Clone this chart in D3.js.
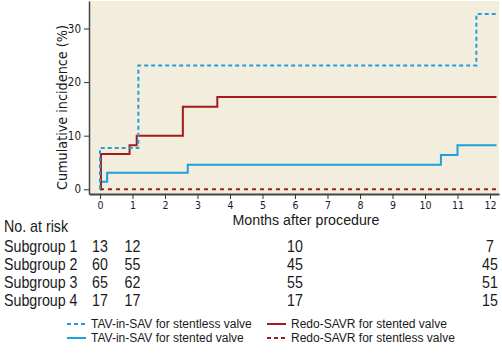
<!DOCTYPE html>
<html><head><meta charset="utf-8">
<script src="https://cdn.jsdelivr.net/npm/d3@7"></script>
<style>
body{margin:0;background:#fff;}
svg{display:block;}
text{font-family:"Liberation Sans",Arial,sans-serif;fill:#1a1a1a;}
.cond{font-family:"Liberation Sans Narrow","DejaVu Sans Condensed",sans-serif;}
</style></head><body>
<svg id="c" width="502" height="356"></svg>
<script>
// ---- data ----
const xTicks = [0,1,2,3,4,5,6,7,8,9,10,11,12];
const yTicks = [0,10,20,30];
// step points: [month, cumulative incidence %]
const tavStentless = [[0,0],[0.0,7.7],[1.18,23.1],[11.58,32.7],[12.2,32.7]];
const redoStented = [[0,0],[0.03,6.6],[0.91,8.2],[1.13,10.0],[2.55,15.4],[3.61,17.2],[12.2,17.2]];
const tavStented = [[0,0],[0.03,1.4],[0.22,3.1],[2.7,4.6],[10.49,6.4],[11.0,8.2],[12.2,8.2]];
const redoStentless = [[0,0],[12.2,0]];
const riskMonths = [0,1,6,12];
const riskGroups = ["Subgroup 1","Subgroup 2","Subgroup 3","Subgroup 4"];
const riskCounts = [[13,12,10,7],[60,55,45,45],[65,62,55,51],[17,17,17,15]];
const legendLabels = ["TAV-in-SAV for stentless valve","TAV-in-SAV for stented valve","Redo-SAVR for stented valve","Redo-SAVR for stentless valve"];

const BLUE="#1ea0dc", RED="#a31b1b";
const svg=d3.select("#c");
const L=89,R=499,T=1,B=194;
const x=d3.scaleLinear().domain([-0.338,12.277]).range([L,R]);
const y=d3.scaleLinear().domain([-0.88,35.13]).range([B,T]);

svg.append("rect").attr("x",L).attr("y",T).attr("width",R-L).attr("height",B-T).attr("fill","#f2eddc");

const line=d3.line().x(d=>x(d[0])).y(d=>y(d[1])).curve(d3.curveStepAfter);
const series=[
 {d:redoStentless,c:RED,dash:"4,4",w:2},
 {d:tavStented,c:BLUE,dash:null,w:2},
 {d:redoStented,c:RED,dash:null,w:2},
 {d:tavStentless,c:BLUE,dash:"4,3",w:2}
];
series.forEach(s=>{
  svg.append("path").attr("d",line(s.d)).attr("fill","none").attr("stroke",s.c)
   .attr("stroke-width",s.w).attr("stroke-dasharray",s.dash);
});

// axes
const xa=svg.append("g").attr("transform",`translate(0,${B})`)
  .call(d3.axisBottom(x).tickValues(xTicks).tickSize(5).tickSizeOuter(0));
xa.select(".domain").attr("stroke","#444").attr("stroke-width",2);
xa.selectAll(".tick line").attr("stroke","#333");
xa.selectAll("text").attr("class","cond").attr("font-size",10.5).attr("fill","#1a1a1a");
const ya=svg.append("g").attr("transform",`translate(${L},0)`)
  .call(d3.axisLeft(y).tickValues(yTicks).tickSize(5).tickSizeOuter(0));
ya.select(".domain").attr("stroke","#444").attr("stroke-width",1.5);
ya.selectAll(".tick line").attr("stroke","#333");
ya.selectAll("text").attr("class","cond").attr("font-size",11.5).attr("fill","#1a1a1a");

const yl=svg.append("text").attr("class","cond").attr("transform","translate(66.5,107.5) rotate(-90)")
 .attr("text-anchor","middle").attr("font-size",14.5).text("Cumulative incidence (%)");
yl.attr("textLength",165).attr("lengthAdjust","spacingAndGlyphs");
svg.append("text").attr("x",306).attr("y",225).attr("text-anchor","middle")
 .attr("font-size",14).attr("textLength",147).attr("lengthAdjust","spacingAndGlyphs")
 .text("Months after procedure");

// risk table
function tt(xx,yy,s,anchor){
  svg.append("text").attr("transform",`translate(${xx},${yy}) scale(0.89,1)`)
   .attr("text-anchor",anchor).attr("font-size",16).text(s);
}
tt(4,232.3,"No. at risk","start");
riskGroups.forEach((g,i)=>{
  const yy=251.7+i*18.2;
  tt(4,yy,g,"start");
  riskCounts[i].forEach((v,j)=>tt(x(riskMonths[j]),yy,v,"middle"));
});

// legend
const leg=[
 {c:BLUE,dash:"4,3",x:67,y:324},
 {c:BLUE,dash:null,x:67,y:338},
 {c:RED,dash:null,x:267,y:324},
 {c:RED,dash:"4,3",x:267,y:338}
];
leg.forEach((l,i)=>{
  svg.append("line").attr("x1",l.x).attr("x2",l.x+19).attr("y1",l.y).attr("y2",l.y)
   .attr("stroke",l.c).attr("stroke-width",2).attr("stroke-dasharray",l.dash);
  svg.append("text").attr("x",l.x+24).attr("y",l.y+4.3).attr("font-size",12).text(legendLabels[i]);
});
</script></body></html>
